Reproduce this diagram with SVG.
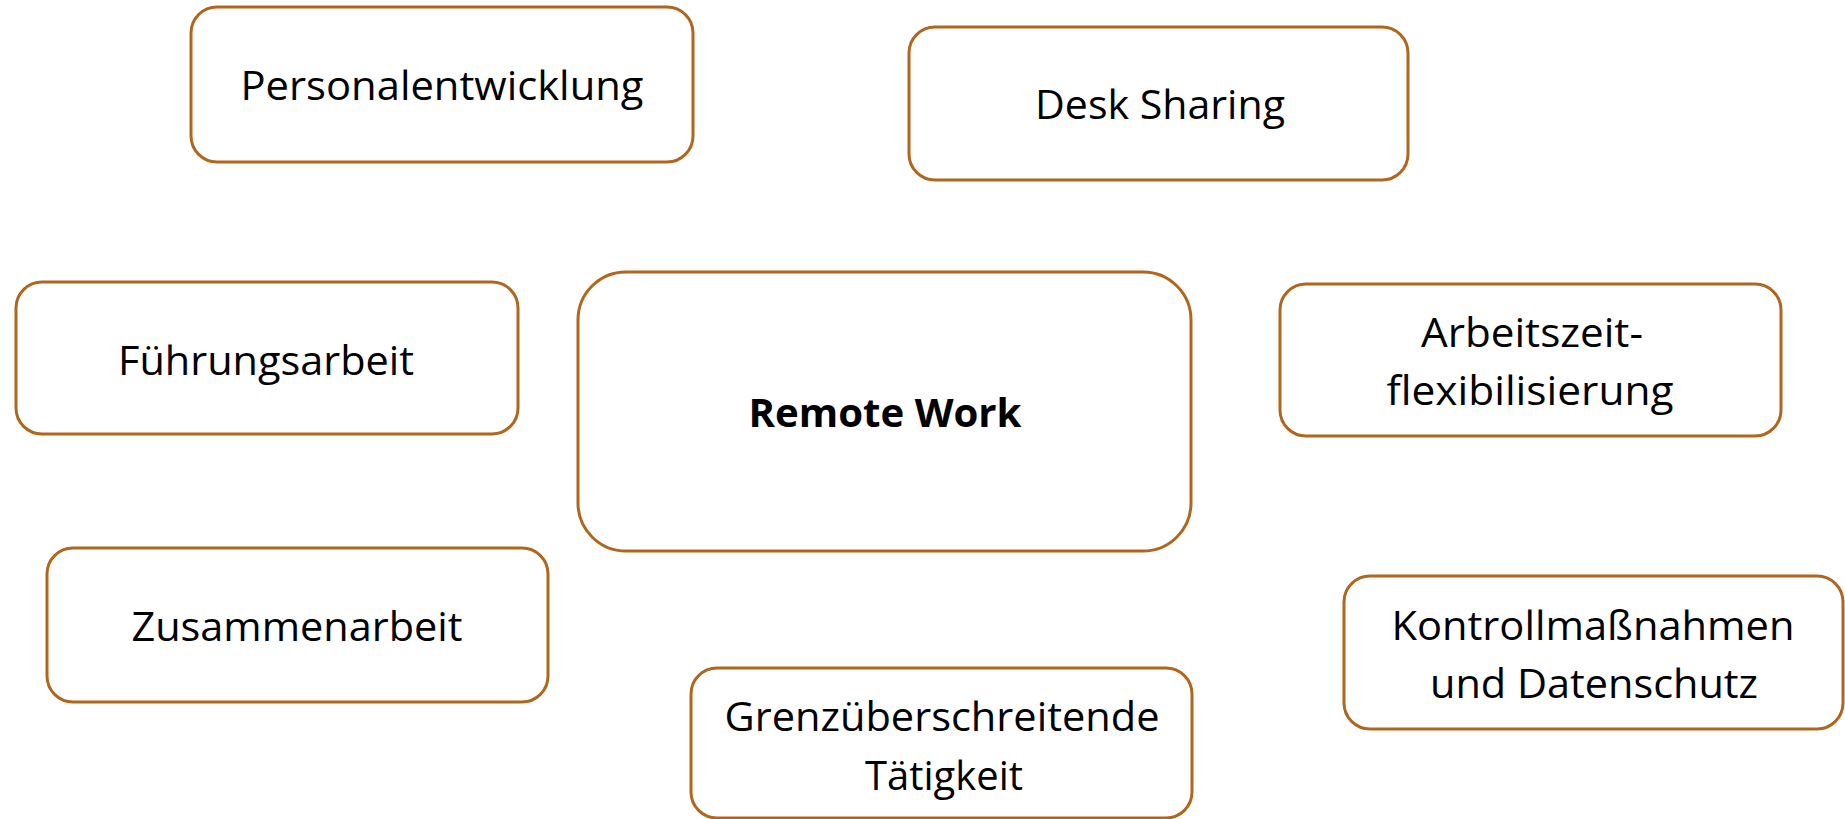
<svg xmlns="http://www.w3.org/2000/svg" width="1845" height="819" viewBox="0 0 1845 819">
<style>
.box{fill:#ffffff;stroke:#B0661C;stroke-width:3}
.t{font-family:"Open Sans","Liberation Sans",sans-serif;font-size:39.5px;fill:#000000;text-anchor:middle}
.b{font-weight:bold}
</style>
<rect x="0" y="0" width="1845" height="819" fill="#ffffff"/>
<g id="connectors"/>
<g id="personalentwicklung">
<rect class="box" x="191" y="7" width="502" height="155" rx="26"/>
<text class="t" x="442" y="100" textLength="403" lengthAdjust="spacingAndGlyphs">Personalentwicklung</text>
</g>
<g id="desk-sharing">
<rect class="box" x="909" y="27" width="499" height="153" rx="26"/>
<text class="t" x="1160" y="119" textLength="250" lengthAdjust="spacingAndGlyphs">Desk Sharing</text>
</g>
<g id="fuehrungsarbeit">
<rect class="box" x="16" y="282" width="502" height="152" rx="26"/>
<text class="t" x="266" y="375" textLength="296" lengthAdjust="spacingAndGlyphs">Führungsarbeit</text>
</g>
<g id="remote-work">
<rect class="box" x="578" y="272" width="613" height="279" rx="48"/>
<text class="t b" x="885" y="427" textLength="273" lengthAdjust="spacingAndGlyphs">Remote Work</text>
</g>
<g id="arbeitszeitflexibilisierung">
<rect class="box" x="1280" y="284" width="501" height="152" rx="26"/>
<text class="t" x="1532" y="347" textLength="222" lengthAdjust="spacingAndGlyphs">Arbeitszeit-</text>
<text class="t" x="1530" y="405" textLength="287" lengthAdjust="spacingAndGlyphs">flexibilisierung</text>
</g>
<g id="zusammenarbeit">
<rect class="box" x="47" y="548" width="501" height="154" rx="26"/>
<text class="t" x="297" y="641" textLength="331" lengthAdjust="spacingAndGlyphs">Zusammenarbeit</text>
</g>
<g id="grenzueberschreitende-taetigkeit">
<rect class="box" x="691" y="668" width="501" height="150" rx="26"/>
<text class="t" x="942" y="731" textLength="435" lengthAdjust="spacingAndGlyphs">Grenzüberschreitende</text>
<text class="t" x="944" y="790" textLength="158" lengthAdjust="spacingAndGlyphs">Tätigkeit</text>
</g>
<g id="kontrollmassnahmen">
<rect class="box" x="1344" y="576" width="499" height="153" rx="26"/>
<text class="t" x="1593" y="640" textLength="403" lengthAdjust="spacingAndGlyphs">Kontrollmaßnahmen</text>
<text class="t" x="1594" y="698" textLength="328" lengthAdjust="spacingAndGlyphs">und Datenschutz</text>
</g>
</svg>
